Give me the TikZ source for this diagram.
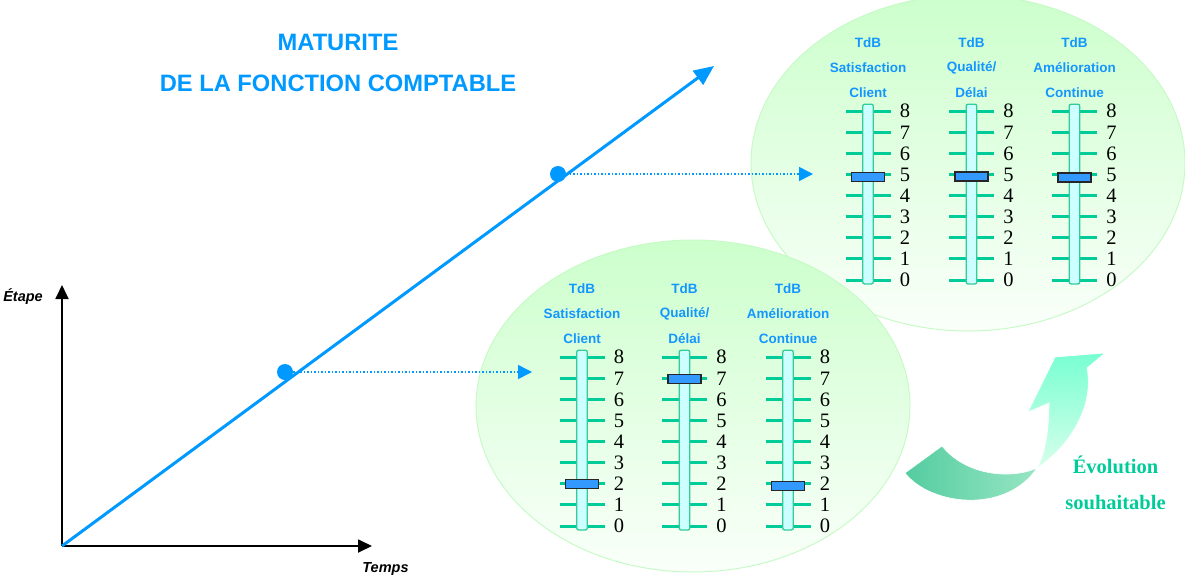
\documentclass[tikz,border=0pt]{standalone}
\usepackage{fontspec}
\setmainfont{Liberation Serif}
\newfontfamily\arialf{Liberation Sans}
\usetikzlibrary{arrows.meta}
\definecolor{mblue}{RGB}{0,153,255}
\definecolor{lblue}{RGB}{20,150,255}
\definecolor{tickc}{RGB}{0,204,153}
\definecolor{tubef}{RGB}{204,255,255}
\definecolor{tubed}{RGB}{51,204,153}
\definecolor{barf}{RGB}{51,153,255}
\definecolor{ellt}{RGB}{204,255,204}
\definecolor{ellb}{RGB}{250,255,250}
\definecolor{ellline}{RGB}{200,250,200}
\definecolor{evoc}{RGB}{0,204,153}
\definecolor{darkarr}{RGB}{85,204,160}
\definecolor{midarr}{RGB}{150,230,195}
\definecolor{lightarrt}{RGB}{120,255,210}
\definecolor{lightarrb}{RGB}{215,255,235}
\tikzset{
  tickline/.style={draw=tickc,line width=3pt},
  tubebox/.style={draw=tubed,fill=tubef,line width=1.3pt,rounded corners=2pt},
  cursor/.style={draw=black!85,fill=barf,line width=1.2pt},
  numlab/.style={font=\fontsize{20.5}{20.5}\selectfont,inner sep=0pt,text=black},
  tdblab/.style={font=\arialf\bfseries\fontsize{13.5}{13.5}\selectfont,text=lblue,inner sep=0pt},
  titlelab/.style={font=\arialf\bfseries\fontsize{23.7}{24}\selectfont,text=mblue,inner sep=0pt},
  axlab/.style={font=\arialf\bfseries\itshape\fontsize{14.5}{14.5}\selectfont,inner sep=0pt},
  evolab/.style={font=\bfseries\fontsize{20.5}{20.5}\selectfont,text=evoc,inner sep=0pt},
  ellbox/.style={draw=ellline,line width=1pt,top color=ellt,bottom color=ellb},
  axisline/.style={draw=black,line width=1.8pt,-{Triangle[length=14pt,width=13pt]}},
  mainline/.style={draw=mblue,line width=3pt,-{Triangle[length=20pt,width=17pt]}},
  dotline/.style={draw=mblue,line width=1.5pt,dotted,-{Triangle[length=14pt,width=14pt]}},
  stagedot/.style={circle,fill=mblue,minimum size=16pt,inner sep=0pt},
}
% #1 prefix, #2 x of tube centre, #3 y of tick 0, #4 label line 2, #5 label line 3, #6 cursor y
\newcommand{\gaugedraw}[6]{%
  \foreach \k in {0,...,8} {
    \draw[tickline] (#2-22.5,#3-\k*21.1) -- (#2+22.5,#3-\k*21.1);
    \node[numlab] (#1n\k) at (#2+37,#3-\k*21.1) {\k};
  }
  \draw[tubebox] (#2-5.3,#3+4) rectangle (#2+5.3,#3-8*21.1-7);
  \draw[cursor] (#2-16.5,#6-4.5) rectangle (#2+16.5,#6+4.5);
  \node[tdblab] (#1a) at (#2,#3-237) {TdB};
  \node[tdblab] (#1b) at (#2,#3-212) {#4};
  \node[tdblab] (#1c) at (#2,#3-187) {#5};
}
\begin{document}
\begin{tikzpicture}[x=1pt,y=-1pt]
\useasboundingbox (0,0) rectangle (1185,581);
% title
\node[titlelab] (t1) at (338,42) {MATURITE};
\node[titlelab] (t2) at (338,83) {DE LA FONCTION COMPTABLE};
% upper ellipse and gauges
\path[ellbox] (968,163) ellipse [x radius=217,y radius=168];
\gaugedraw{u1}{868}{280}{Satisfaction}{Client}{177}
\gaugedraw{u2}{971.5}{280}{Qualité/}{Délai}{176.5}
\gaugedraw{u3}{1074.5}{280}{Amélioration}{Continue}{177.5}
% lower ellipse and gauges
\path[ellbox] (693,406) ellipse [x radius=217,y radius=166];
\gaugedraw{l1}{582}{526}{Satisfaction}{Client}{484}
\gaugedraw{l2}{684.5}{526}{Qualité/}{Délai}{379}
\gaugedraw{l3}{788}{526}{Amélioration}{Continue}{486}
% axes
\coordinate (O) at (62,546);
\coordinate (ytip) at (62,285);
\coordinate (xtip) at (372,546);
\draw[axisline] (O) -- (ytip);
\draw[axisline] (O) -- (xtip);
\node[axlab] (etape) at (23,297) {Étape};
\node[axlab] (temps) at (385.5,569) {Temps};
% main line
\coordinate (mtip) at (714,66);
\draw[mainline] (O) -- (mtip);
\node[stagedot] (d1) at (285,372) {};
\node[stagedot] (d2) at (558,174) {};
\coordinate (e1) at (532,372);
\coordinate (e2) at (813,174);
\draw[dotline] (d1) -- (e1);
\draw[dotline] (d2) -- (e2);
% curved arrow
\path[left color=darkarr,right color=midarr,draw=white,line width=0.6pt]
  (905,473) .. controls (930,505) and (1005,515) .. (1037,468)
  .. controls (1010,480) and (965,475) .. (942,446) -- cycle;
\path[top color=lightarrt,bottom color=lightarrb,draw=white,line width=0.6pt]
  (1037,468) .. controls (1065,450) and (1095,410) .. (1087,368)
  -- (1105,353) -- (1055,357) -- (1028,412) -- (1049,403)
  .. controls (1049,430) and (1045,455) .. (1037,468) -- cycle;
\node[evolab] (ev1) at (1115.5,465) {Évolution};
\node[evolab] (ev2) at (1115.5,503) {souhaitable};
\end{tikzpicture}
\end{document}
